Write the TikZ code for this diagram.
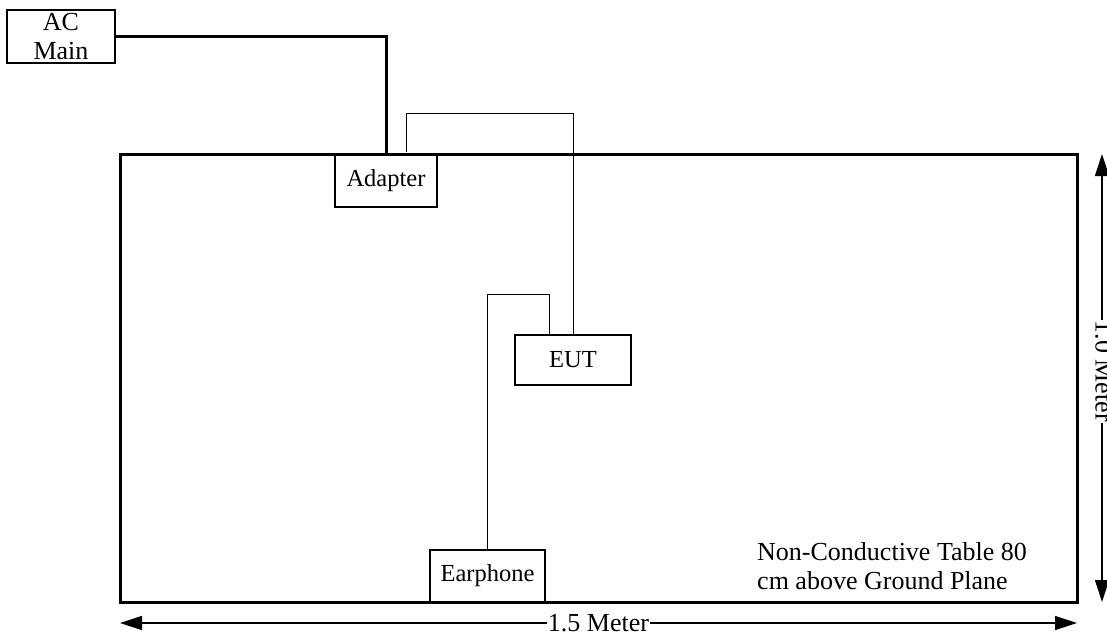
\documentclass[tikz,border=0pt]{standalone}
\usepackage{fontspec}
\setmainfont{Liberation Serif}
\usetikzlibrary{arrows.meta}
\begin{document}
\begin{tikzpicture}[x=1pt,y=-1pt,
  box/.style={draw,line width=1.3pt,inner sep=0pt,font=\fontsize{24.5}{26}\selectfont},
  thickwire/.style={line width=3pt},
  thinwire/.style={line width=0.9pt},
  dim/.style={line width=1.3pt,{Triangle[length=22pt,width=14pt]}-{Triangle[length=22pt,width=14pt]}},
  lbl/.style={fill=white,inner sep=1pt,font=\fontsize{26}{28}\selectfont}]
\useasboundingbox (0,0) rectangle (1107,635);
\node[draw,line width=3pt,minimum width=957pt,minimum height=448pt,inner sep=0pt] (table) at (598.5,378) {};
\node[box,minimum width=108pt,minimum height=53pt,align=center,font=\fontsize{26}{29}\selectfont] (ac) at (61,36.5) {AC\\Main};
\node[box,fill=white,minimum width=102pt,minimum height=52pt] (adapter) at (386,181) {Adapter};
\node[box,minimum width=116pt,minimum height=50pt] (eut) at (573,360) {EUT};
\node[box,fill=white,minimum width=115pt,minimum height=52pt] (ear) at (487.5,576) {Earphone};
\node[anchor=base west,align=left,inner sep=0pt,font=\fontsize{26}{29}\selectfont] (note) at (757,589) {Non-Conductive Table 80\\cm above Ground Plane};
\coordinate (a1) at (406,152);
\coordinate (e1) at (549,335);
\coordinate (c1) at (406,113);
\coordinate (c2) at (549,294);
\coordinate (d1) at (120,623);
\coordinate (d2) at (1077,623);
\coordinate (v1) at (1102,154);
\coordinate (v2) at (1102,602);
\draw[thickwire] (ac.east) -| (adapter.north);
\draw[thinwire] (a1) -- (c1) -| (eut.north);
\draw[thinwire] (e1) -- (c2) -| (ear.north);
\draw[dim] (d1) -- node[lbl] {1.5 Meter} (d2);
\draw[dim] (v1) -- node[lbl,xshift=2pt,rotate=-90,pos=0.485] {1.0 Meter} (v2);
\end{tikzpicture}
\end{document}
